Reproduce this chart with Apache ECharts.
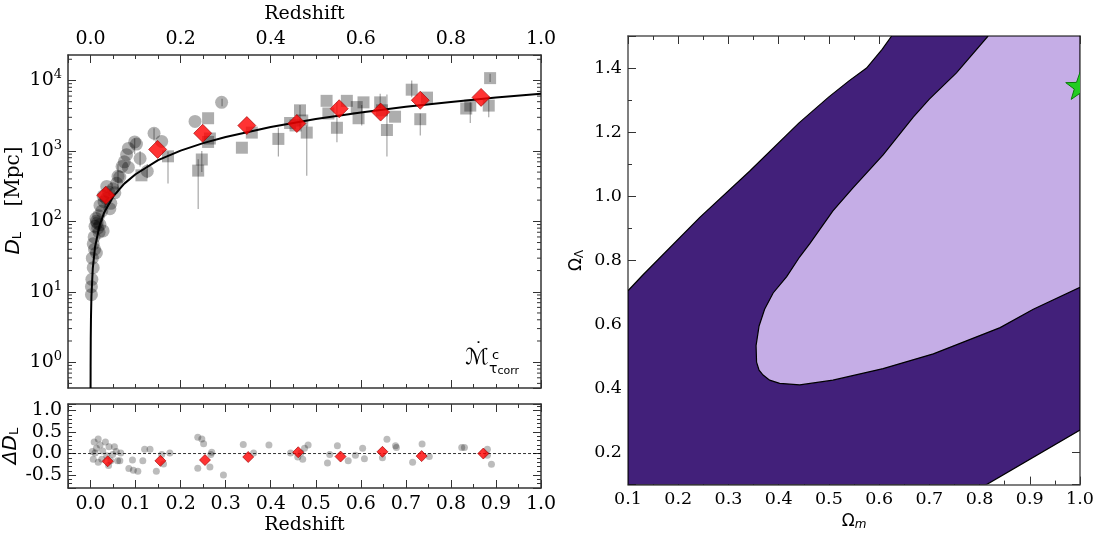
<!DOCTYPE html>
<html><head><meta charset="utf-8">
<script src="https://cdn.jsdelivr.net/npm/echarts@6/dist/echarts.min.js"></script>
<style>html,body{margin:0;padding:0;background:#fff}#c{width:1099px;height:536px}</style>
</head><body><div id="c"></div>
<script>
// ---------- Top-left panel: luminosity distance ----------
const circleZ = [0.291,0.232,0.141,0.158,0.098,0.084,0.080,0.110,0.084,0.126,0.061,0.058,0.036,0.028,0.021,0.013,0.065,0.054,0.043,0.021,0.028,0.006,0.013,0.006,0.002,0.002,0.010,0.015,0.012,0.018,0.025,0.030,0.035,0.040,0.050,0.070,0.004,0.008,0.009,0.003,0.016,0.019,0.045,0.075,0.102];
const circleD = [4890,2620,1780,1365,1340,1085,883,780,582,514,436,347,313,229,168,100,426,254,151,90,73,48,35.5,22,11.8,9.1,85,95,110,120,140,190,210,260,290,600,30,60,40,15,80,70,180,700,1250];
const squareZ = [0.261,0.261,0.265,0.336,0.247,0.239,0.113,0.172,0.358,0.417,0.443,0.465,0.480,0.524,0.528,0.547,0.569,0.591,0.595,0.606,0.643,0.647,0.658,0.676,0.713,0.747,0.732,0.843,0.834,0.884,0.887,0.455,0.470];
const squareD = [2910,1340,1500,1110,755,525,450,838,1820,1480,2490,3770,1820,5140,3400,2130,5140,4190,2910,4890,4890,3770,1980,3060,7400,5710,2820,4400,4000,4400,10800,2300,2700];
const errZ  = [0.061,0.126,0.141,0.172,0.239,0.292,0.417,0.480,0.465,0.547,0.658,0.602,0.713,0.732,0.843,0.884,0.887,0.643,0.098,0.110,0.247];
const errLo = [280,410,1400,345,150,4300,830,445,2000,1330,830,2300,5800,1660,2500,3000,9500,4000,900,600,500];
const errHi = [645,650,2100,980,760,5500,2140,2290,4500,4900,6300,4500,10000,3400,4900,6000,12500,6500,1500,1000,1000];
const binZ = [0.034,0.149,0.249,0.347,0.458,0.552,0.644,0.732,0.867];
const binD = [234,1050,1780,2290,2450,3970,3560,5240,5750];
const modelZ = [0.0001,0.0002,0.0005,0.001,0.002,0.005,0.01,0.02,0.03,0.05,0.075,0.1,0.15,0.2,0.25,0.3,0.4,0.5,0.6,0.7,0.8,0.9,1.0];
const modelD = [0.43,0.86,2.14,4.29,8.6,21.5,43.1,87,132,224,343,466,740,1010,1290,1580,2180,2830,3510,4220,4950,5710,6480];
const logMinorTicks = [0.5,0.6,0.7,0.8,0.9,2,3,4,5,6,7,8,9,20,30,40,50,60,70,80,90,200,300,400,500,600,700,800,900,2000,3000,4000,5000,6000,7000,8000,9000,20000];

// ---------- Bottom-left panel: residuals ----------
const resZ = [0.008,0.013,0.010,0.017,0.021,0.025,0.017,0.033,0.040,0.041,0.049,0.053,0.057,0.045,0.065,0.067,0.006,0.085,0.095,0.105,0.093,0.120,0.132,0.116,0.146,0.158,0.162,0.176,0.238,0.247,0.251,0.238,0.265,0.267,0.269,0.295,0.339,0.362,0.396,0.444,0.467,0.471,0.475,0.483,0.460,0.526,0.531,0.548,0.572,0.588,0.604,0.608,0.648,0.658,0.677,0.679,0.715,0.736,0.752,0.824,0.830,0.881,0.890,0.881,0.004,0.027,0.036,0.060];
const resV = [0.27,0.12,0.01,0.34,0.20,-0.13,-0.20,0.27,-0.28,0.16,-0.02,0.16,0.05,-0.17,-0.17,0.01,-0.13,-0.35,-0.39,-0.41,-0.15,0.10,0.10,-0.17,-0.41,-0.02,-0.24,0.01,0.38,0.34,0.23,-0.34,-0.31,-0.02,0.03,-0.50,0.21,0.01,0.20,0.01,0.01,-0.13,0.12,0.20,-0.08,-0.22,-0.02,0.18,-0.17,-0.04,0.12,-0.12,-0.10,0.33,0.18,0.14,-0.20,0.22,-0.07,0.14,0.14,0.10,-0.25,-0.04,0.05,0.06,-0.05,-0.17];
const resBinZ = [0.038,0.155,0.254,0.350,0.461,0.555,0.648,0.735,0.872];
const resBinV = [-0.18,-0.17,-0.15,-0.08,0.03,-0.07,0.04,-0.06,0.00];

// ---------- Right panel: confidence contours ----------
const outerOm = [0.1,0.814,1.0,1.0,0.625,0.606,0.575,0.540,0.500,0.440,0.342,0.243,0.13,0.1];
const outerOl = [0.1,0.1,0.27,1.5,1.5,1.458,1.400,1.360,1.310,1.228,1.078,0.934,0.755,0.705];
const innerOm = [0.817,0.754,0.700,0.668,0.608,0.548,0.508,0.462,0.442,0.416,0.389,0.372,0.361,0.355,0.356,0.361,0.369,0.382,0.402,0.442,0.508,0.608,0.708,0.841,0.907,1.0,1.0];
const innerOl = [1.5,1.385,1.303,1.247,1.129,1.026,0.954,0.852,0.811,0.749,0.698,0.647,0.595,0.534,0.482,0.457,0.442,0.426,0.416,0.411,0.426,0.462,0.508,0.590,0.647,0.716,1.5];
const starOm = [1.0];
const starOl = [1.34];

const SERIF = 'DejaVu Serif';
const AX = '#333';
const FS = 19;   // left panels tick font
const FR = 17.5; // right panel tick font
function baseAxis(o) {
  const a = {
    axisLine: {show: true, onZero: false, lineStyle: {color: AX, width: 1.5}},
    axisTick: {show: true, inside: true, length: 8, lineStyle: {color: AX, width: 1}},
    minorTick: {show: true, length: 4, lineStyle: {color: AX, width: 1}},
    splitLine: {show: false},
    minorSplitLine: {show: false},
    axisLabel: {show: false, fontFamily: SERIF, fontSize: FS, color: '#000'}
  };
  for (const k in o) {
    if (typeof o[k] === 'object' && !Array.isArray(o[k]) && a[k]) a[k] = Object.assign({}, a[k], o[k]);
    else a[k] = o[k];
  }
  return a;
}
const f1 = v => (Math.abs(v) < 1e-9 ? 0 : v).toFixed(1);
const logFmt = v => {
  const e = Math.log10(v);
  if (Math.abs(e - Math.round(e)) > 1e-6) return '';
  return '{b|10}{s|' + Math.round(e) + '}';
};
const logRich = {b: {fontFamily: SERIF, fontSize: FS, color: '#000'}, s: {fontFamily: SERIF, fontSize: 13, color: '#000', padding: [0, 0, 11, 0]}};

const chart = echarts.init(document.getElementById('c'), null, {renderer: 'canvas'});

function polySeries(xs, ys, color) {
  return {
    type: 'custom', xAxisIndex: 4, yAxisIndex: 4, clip: true, silent: true,
    data: [[xs[0], ys[0]]],
    renderItem: (params, api) => {
      const pts = xs.map((x, i) => api.coord([x, ys[i]]));
      return {type: 'polygon', shape: {points: pts}, style: {fill: color, stroke: '#000', lineWidth: 1.2}};
    }
  };
}

const option = {
  animation: false,
  backgroundColor: '#fff',
  grid: [
    {left: 68, top: 43, width: 473, height: 345},
    {left: 68, top: 404, width: 473, height: 87},
    {left: 628, top: 36, width: 452, height: 453}
  ],
  xAxis: [
    baseAxis({gridIndex: 0, type: 'value', position: 'top', min: -0.05, max: 1.0, splitNumber: 5, minorTick: {splitNumber: 4},
      axisLabel: {show: true, margin: 6, formatter: f1, showMinLabel: false},
      name: 'Redshift', nameLocation: 'middle', nameGap: 31, nameTextStyle: {fontFamily: SERIF, fontSize: FS, color: '#000'}}),
    baseAxis({gridIndex: 0, type: 'value', position: 'bottom', min: -0.05, max: 1.0, splitNumber: 5, minorTick: {splitNumber: 4}}),
    baseAxis({gridIndex: 1, type: 'value', position: 'bottom', min: -0.05, max: 1.0, splitNumber: 10, minorTick: {splitNumber: 2},
      axisLabel: {show: true, margin: 7, formatter: f1, showMinLabel: false},
      name: 'Redshift', nameLocation: 'middle', nameGap: 28, nameTextStyle: {fontFamily: SERIF, fontSize: FS, color: '#000'}}),
    baseAxis({gridIndex: 1, type: 'value', position: 'top', min: -0.05, max: 1.0, splitNumber: 10, minorTick: {splitNumber: 2}}),
    baseAxis({gridIndex: 2, type: 'value', position: 'bottom', min: 0.1, max: 1.0, interval: 0.1, minorTick: {splitNumber: 2},
      axisLine: {lineStyle: {color: '#555', width: 1.5}},
      axisLabel: {show: true, margin: 6, formatter: f1, fontSize: FR},
      name: '{o|Ω}{m|m}', nameLocation: 'middle', nameGap: 24,
      nameTextStyle: {rich: {o: {fontFamily: 'DejaVu Sans', fontSize: 17, color: '#000'}, m: {fontFamily: 'DejaVu Sans', fontStyle: 'italic', fontSize: 12, color: '#000', padding: [6, 0, 0, 0]}}}}),
    baseAxis({gridIndex: 2, type: 'value', position: 'top', min: 0.1, max: 1.0, interval: 0.1, minorTick: {splitNumber: 2},
      axisLine: {lineStyle: {color: '#555', width: 1.5}}})
  ],
  yAxis: [
    baseAxis({gridIndex: 0, type: 'log', logBase: 10, position: 'left', min: 0.43, max: 23000, minorTick: {show: false},
      axisLabel: {show: true, margin: 6, formatter: logFmt, rich: logRich, showMinLabel: false, showMaxLabel: false},
      name: '{w| }{i|D}{s|L}{n|    [Mpc]}', nameLocation: 'middle', nameGap: 44, nameRotate: 90,
      nameTextStyle: {rich: {w: {width: 42, fontSize: 10}, i: {fontFamily: 'DejaVu Sans', fontStyle: 'italic', fontSize: 20, color: '#000'}, s: {fontFamily: 'DejaVu Sans', fontSize: 13, color: '#000', padding: [8, 0, 0, 0]}, n: {fontFamily: SERIF, fontSize: 20, color: '#000'}}}}),
    baseAxis({gridIndex: 0, type: 'log', logBase: 10, position: 'right', min: 0.43, max: 23000, minorTick: {show: false}}),
    baseAxis({gridIndex: 1, type: 'value', position: 'left', min: -0.8, max: 1.15, splitNumber: 4, minorTick: {splitNumber: 5},
      axisLabel: {show: true, margin: 6, formatter: f1, showMinLabel: false, showMaxLabel: false},
      name: '{d|Δ}{i|D}{s|L}', nameLocation: 'middle', nameGap: 44, nameRotate: 90,
      nameTextStyle: {rich: {d: {fontFamily: 'DejaVu Sans', fontStyle: 'italic', fontSize: 20, color: '#000'}, i: {fontFamily: 'DejaVu Sans', fontStyle: 'italic', fontSize: 20, color: '#000'}, s: {fontFamily: 'DejaVu Sans', fontSize: 13, color: '#000', padding: [8, 0, 0, 0]}}}}),
    baseAxis({gridIndex: 1, type: 'value', position: 'right', min: -0.8, max: 1.15, splitNumber: 4, minorTick: {splitNumber: 5}}),
    baseAxis({gridIndex: 2, type: 'value', position: 'left', min: 0.1, max: 1.5, splitNumber: 7, minorTick: {splitNumber: 2},
      axisLine: {lineStyle: {color: '#555', width: 1.5}},
      axisLabel: {show: true, margin: 6, formatter: f1, fontSize: FR, showMinLabel: false, showMaxLabel: false},
      name: '{o|Ω}{l|Λ}', nameLocation: 'middle', nameGap: 42, nameRotate: 90,
      nameTextStyle: {rich: {o: {fontFamily: 'DejaVu Sans', fontSize: 17, color: '#000'}, l: {fontFamily: 'DejaVu Sans', fontSize: 12, color: '#000', padding: [6, 0, 0, 0]}}}}),
    baseAxis({gridIndex: 2, type: 'value', position: 'right', min: 0.1, max: 1.5, splitNumber: 7, minorTick: {splitNumber: 2},
      axisLine: {lineStyle: {color: '#555', width: 1.5}}})
  ],
  graphic: [
    {type: 'text', left: 465, top: 347, style: {text: 'ℳ', fontFamily: 'DejaVu Sans', fontStyle: 'italic', fontSize: 22, fill: '#000'}},
    {type: 'text', left: 474, top: 341, style: {text: '˙', fontFamily: 'DejaVu Sans', fontSize: 18, fill: '#000'}},
    {type: 'text', left: 492, top: 349, style: {text: 'c', fontFamily: 'DejaVu Sans', fontSize: 13, fill: '#000'}},
    {type: 'text', left: 489, top: 362, style: {text: '{t|τ}{c|corr}', rich: {t: {fontFamily: 'DejaVu Sans', fontSize: 14, fill: '#000'}, c: {fontFamily: 'DejaVu Sans', fontSize: 11, fill: '#000', padding: [4, 0, 0, 0]}}}}
  ],
  series: [
    {type: 'custom', xAxisIndex: 0, yAxisIndex: 0, silent: true, clip: false,
      data: logMinorTicks.map(v => [0.5, v]),
      renderItem: (params, api) => {
        const v = api.value(1);
        const p = api.coord([-0.05, v]);
        const q = api.coord([1.0, v]);
        return {type: 'group', children: [
          {type: 'line', shape: {x1: p[0], y1: p[1], x2: p[0] + 4, y2: p[1]}, style: {stroke: AX, lineWidth: 1}},
          {type: 'line', shape: {x1: q[0] - 4, y1: q[1], x2: q[0], y2: q[1]}, style: {stroke: AX, lineWidth: 1}}
        ]};
      }},
    {type: 'custom', xAxisIndex: 0, yAxisIndex: 0, silent: true, clip: true,
      data: errZ.map((z, i) => [z, errLo[i], errHi[i]]),
      renderItem: (params, api) => {
        const a = api.coord([api.value(0), api.value(1)]);
        const b = api.coord([api.value(0), api.value(2)]);
        return {type: 'line', shape: {x1: a[0], y1: a[1], x2: b[0], y2: b[1]}, style: {stroke: 'rgba(0,0,0,0.35)', lineWidth: 1.2}};
      }},
    {type: 'scatter', xAxisIndex: 0, yAxisIndex: 0, symbol: 'circle', symbolSize: 13,
      itemStyle: {color: 'rgba(0,0,0,0.38)'}, data: circleZ.map((z, i) => [z, circleD[i]])},
    {type: 'scatter', xAxisIndex: 0, yAxisIndex: 0, symbol: 'rect', symbolSize: 12,
      itemStyle: {color: 'rgba(0,0,0,0.4)'}, data: squareZ.map((z, i) => [z, squareD[i]])},
    {type: 'line', xAxisIndex: 0, yAxisIndex: 0, showSymbol: false, symbol: 'none', clip: true,
      lineStyle: {color: '#000', width: 2}, data: modelZ.map((z, i) => [z, modelD[i]]), z: 3},
    {type: 'scatter', xAxisIndex: 0, yAxisIndex: 0, symbol: 'diamond', symbolSize: 18,
      itemStyle: {color: '#ff0000', borderColor: '#9a0000', borderWidth: 0.8}, data: binZ.map((z, i) => [z, binD[i]]), z: 4},
    {type: 'line', xAxisIndex: 2, yAxisIndex: 2, showSymbol: false, symbol: 'none',
      lineStyle: {color: '#000', width: 0.8, type: [3, 2]}, data: [[-0.05, 0], [1.0, 0]]},
    {type: 'scatter', xAxisIndex: 2, yAxisIndex: 2, symbol: 'circle', symbolSize: 7,
      itemStyle: {color: 'rgba(0,0,0,0.33)'}, data: resZ.map((z, i) => [z, resV[i]])},
    {type: 'scatter', xAxisIndex: 2, yAxisIndex: 2, symbol: 'diamond', symbolSize: 11,
      itemStyle: {color: '#ff0000', borderColor: '#9a0000', borderWidth: 0.8}, data: resBinZ.map((z, i) => [z, resBinV[i]]), z: 4},
    polySeries(outerOm, outerOl, '#42207a'),
    polySeries(innerOm, innerOl, '#c5ade6'),
    {type: 'custom', xAxisIndex: 4, yAxisIndex: 4, clip: true, z: 5, silent: true,
      data: starOm.map((x, i) => [x, starOl[i]]),
      renderItem: (params, api) => {
        const c = api.coord([api.value(0), api.value(1)]);
        const pts = [];
        for (let k = 0; k < 10; k++) {
          const r = k % 2 === 0 ? 15 : 6;
          const ang = -Math.PI / 2 + k * Math.PI / 5;
          pts.push([c[0] + r * Math.cos(ang), c[1] + r * Math.sin(ang)]);
        }
        return {type: 'polygon', shape: {points: pts}, style: {fill: '#22cc22', stroke: '#0b7a0b', lineWidth: 1}};
      }}
  ]
};
chart.setOption(option);
</script>
</body></html>
